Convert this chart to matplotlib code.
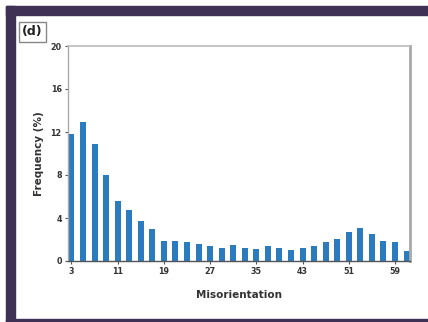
import matplotlib
matplotlib.use("Agg")
import matplotlib.pyplot as plt
from matplotlib.patches import Rectangle

# Misorientation bins (degrees, bin centres) and frequency (%)
misorientation = list(range(3, 63, 2))
frequency = [11.8, 12.9, 10.9, 8.0, 5.6, 4.7, 3.7, 3.0, 1.9, 1.9,
             1.75, 1.6, 1.35, 1.2, 1.45, 1.2, 1.15, 1.35, 1.2, 1.0,
             1.25, 1.35, 1.75, 2.05, 2.7, 3.05, 2.5, 1.9, 1.75, 0.95]
x_ticks = [3, 11, 19, 27, 35, 43, 51, 59]
y_ticks = [0, 4, 8, 12, 16, 20]

W, H = 428, 322
fig = plt.figure(figsize=(W / 100, H / 100), dpi=100)
fig.patch.set_facecolor("white")

frame_col = "#3f3055"
# frame bands: top, left, bottom
fig.patches.append(Rectangle((6 / W, 1 - 15 / H), 1 - 6 / W, 9 / H,
                             transform=fig.transFigure, color=frame_col, zorder=0))
fig.patches.append(Rectangle((6 / W, 0), 9 / W, 1 - 6 / H,
                             transform=fig.transFigure, color=frame_col, zorder=0))
fig.patches.append(Rectangle((6 / W, 0), 1 - 6 / W, 3.5 / H,
                             transform=fig.transFigure, color=frame_col, zorder=0))

ax = fig.add_axes([68 / W, 1 - 261 / H, (410 - 68) / W, (261 - 46) / H])
ax.bar(misorientation, frequency, width=1.05, color="#2b7bbf", zorder=2)

ax.set_xlim(2.4, 61.6)
ax.set_ylim(0, 20)
ax.set_xticks(x_ticks)
ax.set_yticks(y_ticks)
ax.tick_params(axis="both", labelsize=5.8, length=2.5, width=0.8,
               colors="#555555", labelcolor="#333333", pad=2)
for lbl in ax.get_xticklabels() + ax.get_yticklabels():
    lbl.set_fontweight("bold")

ax.spines["left"].set_color("#aaaaaa")
ax.spines["left"].set_linewidth(1.0)
ax.spines["top"].set_color("#bbbbbb")
ax.spines["top"].set_linewidth(1.2)
ax.spines["right"].set_color("#a8a8a8")
ax.spines["right"].set_linewidth(2.0)
ax.spines["bottom"].set_color("#555555")
ax.spines["bottom"].set_linewidth(1.0)

ax.set_xlabel("Misorientation", fontsize=7.5, fontweight="bold",
              color="#333333", labelpad=10)
ax.set_ylabel("Frequency (%)", fontsize=7.5, fontweight="bold",
              color="#333333", labelpad=5)

# panel tag
fig.text(32.5 / W, 1 - 32 / H, "(d)", fontsize=9, fontweight="bold",
         color="#222222", ha="center", va="center",
         bbox=dict(boxstyle="square,pad=0.25", fc="white", ec="#888888", lw=1.0))

fig.savefig("out.png", dpi=100)
